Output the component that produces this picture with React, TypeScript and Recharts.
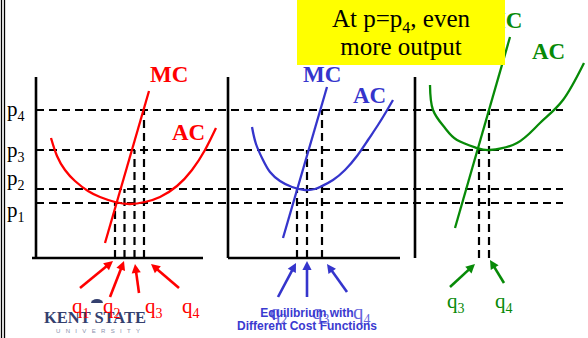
import React from 'react';
import {
  ComposedChart,
  Line,
  XAxis,
  YAxis,
  ReferenceLine,
  ReferenceDot,
  ReferenceArea,
} from 'recharts';

// ---------- data ----------
// Market price levels p1..p4 (price units measured up from the quantity axis)
const priceNames = ['1', '2', '3', '4'];
const priceLevels = [55, 69, 108, 148];

// Output each firm supplies at p1..p4 (null: not marked)
const redOutput: (number | null)[] = [79, 88.5, 98.5, 108];
const blueOutput: (number | null)[] = [null, 69, 79, 94];
const greenOutput: (number | null)[] = [null, null, 64, 74];

// Marginal cost lines
const redMC = [{ q: 69, p: 15 }, { q: 113, p: 167 }];
const blueMC = [{ q: 55, p: 20 }, { q: 99, p: 171 }];
const greenMC = [{ q: 40, p: 30 }, { q: 95, p: 221 }];

// Average cost curves
const redAC = [
  { q: 15, p: 120 }, { q: 21, p: 102 }, { q: 29, p: 88 }, { q: 39, p: 77 },
  { q: 52, p: 67 }, { q: 64, p: 61 }, { q: 79, p: 56 }, { q: 94, p: 54 },
  { q: 109, p: 56 }, { q: 124, p: 61 }, { q: 141, p: 72 }, { q: 156, p: 88 },
  { q: 169, p: 108 }, { q: 180, p: 130 },
];
const blueAC = [
  { q: 24, p: 131 }, { q: 28, p: 114 }, { q: 35, p: 98 }, { q: 42, p: 86 },
  { q: 52, p: 77 }, { q: 64, p: 71 }, { q: 77, p: 68 }, { q: 87, p: 69 },
  { q: 94, p: 72 }, { q: 105, p: 78 }, { q: 117, p: 88 }, { q: 129, p: 102 },
  { q: 140, p: 118 }, { q: 150, p: 133 }, { q: 158, p: 146 }, { q: 165, p: 158 },
];
const greenAC = [
  { q: 15, p: 173 }, { q: 18, p: 148 }, { q: 30, p: 130 }, { q: 42, p: 118 },
  { q: 62, p: 110 }, { q: 75, p: 108 }, { q: 102, p: 115 }, { q: 125, p: 135 },
  { q: 148, p: 158 }, { q: 169, p: 195 },
];

// Quantity labels under each panel
const redQLabels = ['1', '2', '3', '4'];
const blueQLabels = ['2', '3', '4'];
const greenQLabels = ['3', '4'];

// ---------- layout ----------
const W = 588;
const H = 338;
const SERIF = '"Liberation Serif", "Times New Roman", serif';
const SANS = '"Liberation Sans", Arial, sans-serif';
const RED = '#ff0000';
const BLUE = '#3535cc';
const GREEN = '#078a07';
const LIGHT_BLUE = '#6464dc';

type Pt = { q: number; p: number };

const panels = [
  {
    key: 'red', origin: 36, color: RED, mc: redMC, ac: redAC, output: redOutput,
    axisFrom: -4, axisTo: 167,
    mcLabel: { q: 114, p: 176 }, acLabel: { q: 136, p: 118 },
    qLabels: redQLabels, qLabelQ: [36, 67, 109, 146], qLabelP: -55, qLabelColor: RED,
    arrows: [
      [44, -30, 77, -3], [74, -39, 88, -3], [103, -35, 99, -6], [143, -30, 115, -6],
    ],
  },
  {
    key: 'blue', origin: 228, color: BLUE, mc: blueMC, ac: blueAC, output: blueOutput,
    axisFrom: 0, axisTo: 172,
    mcLabel: { q: 75, p: 176 }, acLabel: { q: 125, p: 155 },
    qLabels: blueQLabels, qLabelQ: [42, 84, 125], qLabelP: -61, qLabelColor: LIGHT_BLUE,
    arrows: [
      [50, -39, 68, -5], [79, -39, 79, -3], [119, -34, 99, -6],
    ],
  },
  {
    key: 'green', origin: 415, color: GREEN, mc: greenMC, ac: greenAC, output: greenOutput,
    axisFrom: 0, axisTo: 175,
    mcLabel: { q: 69, p: 230 }, acLabel: { q: 117, p: 199 },
    qLabels: greenQLabels, qLabelQ: [32, 80], qLabelP: -50, qLabelColor: GREEN,
    arrows: [
      [35, -29, 60, -6], [89, -25, 75, -2],
    ],
  },
];

const AXIS_TOP = 181;
const DASH_FROM = 36;
const DASH_TO = 563;

const toXY = (origin: number, pts: Pt[]) => pts.map((d) => ({ x: origin + d.q, p: d.p }));

const arrowShape = (color: string) => (props: any) => {
  const { x1, y1, x2, y2 } = props;
  const dx = x2 - x1;
  const dy = y2 - y1;
  const len = Math.hypot(dx, dy) || 1;
  const ux = dx / len;
  const uy = dy / len;
  const hl = 9;
  const hw = 4.6;
  const bx = x2 - ux * hl;
  const by = y2 - uy * hl;
  return (
    <g>
      <line x1={x1} y1={y1} x2={bx + ux * 1} y2={by + uy * 1} stroke={color} strokeWidth={2.6} />
      <polygon
        points={`${x2},${y2} ${bx - uy * hw},${by + ux * hw} ${bx + uy * hw},${by - ux * hw}`}
        fill={color}
      />
    </g>
  );
};

const textDot = (key: string, x: number, p: number, node: React.ReactNode) => (
  <ReferenceDot
    key={key}
    x={x}
    y={p}
    r={1}
    fill="none"
    stroke="none"
    isFront
    shape={(props: any) => (
      <g transform={`translate(${props.cx},${props.cy})`}>{node}</g>
    )}
  />
);

const subText = (
  main: string,
  idx: string,
  fill: string,
  size = 21,
  subSize = 14,
  dy = 5,
) => (
  <text x={0} y={0} fontFamily={SERIF} fontSize={size} fill={fill}>
    {main}
    <tspan dy={dy} fontSize={subSize}>
      {idx}
    </tspan>
  </text>
);

const boldText = (txt: string, fill: string) => (
  <text x={0} y={0} fontFamily={SERIF} fontSize={23} fontWeight="bold" fill={fill}>
    {txt}
  </text>
);

const boxText = (props: any) => {
  const vb = props.viewBox || { x: 297, y: 0, width: 208, height: 65 };
  const cx = vb.x + vb.width / 2;
  return (
    <g>
      <text x={cx} y={vb.y + 27} textAnchor="middle" fontFamily={SERIF} fontSize={25} fill="#000">
        At p=p
        <tspan dy={6} fontSize={16}>4</tspan>
        <tspan dy={-6}>, even</tspan>
      </text>
      <text x={cx} y={vb.y + 55} textAnchor="middle" fontFamily={SERIF} fontSize={25} fill="#000">
        more output
      </text>
    </g>
  );
};

export default function App() {
  const elements: React.ReactNode[] = [];

  // Frame on the left edge
  elements.push(
    <ReferenceLine key="frame-a" segment={[{ x: 1.5, y: -80 }, { x: 1.5, y: 258 }]} stroke="#000" strokeWidth={1.3} />,
    <ReferenceLine key="frame-b" segment={[{ x: 4.5, y: -80 }, { x: 4.5, y: 258 }]} stroke="#000" strokeWidth={1.3} />,
  );

  // University logo
  elements.push(
    textDot('logo-dome', 97, -45, <path d="M -6 0 A 6 4 0 0 1 6 0 Z" fill="#34406e" />),
    textDot(
      'logo-name',
      44,
      -65,
      <text
        x={0}
        y={0}
        fontFamily={SERIF}
        fontSize={16}
        fontWeight="bold"
        fill="#34406e"
        textLength={102}
        lengthAdjust="spacingAndGlyphs"
      >
        KENT STATE
      </text>,
    ),
    textDot(
      'logo-sub',
      56,
      -75,
      <text x={0} y={0} fontFamily={SANS} fontSize={6} fill="#8a90ac" textLength={84} lengthAdjust="spacing">
        UNIVERSITY
      </text>,
    ),
  );

  // Price levels: dashed lines across all panels and their labels
  priceLevels.forEach((p, i) => {
    elements.push(
      <ReferenceLine
        key={`price-${i}`}
        segment={[{ x: DASH_FROM, y: p }, { x: DASH_TO, y: p }]}
        stroke="#000"
        strokeWidth={2.2}
        strokeDasharray="8 5"
      />,
    );
  });
  const priceLabelP = [41, 73, 101, 142];
  priceNames.forEach((n, i) => {
    elements.push(textDot(`plabel-${i}`, 7, priceLabelP[i], subText('p', n, '#000')));
  });

  panels.forEach((pn) => {
    // axes
    elements.push(
      <ReferenceLine
        key={`${pn.key}-yaxis`}
        segment={[{ x: pn.origin, y: 0 }, { x: pn.origin, y: AXIS_TOP }]}
        stroke="#000"
        strokeWidth={2.6}
      />,
      <ReferenceLine
        key={`${pn.key}-xaxis`}
        segment={[{ x: pn.origin + pn.axisFrom, y: 0 }, { x: pn.origin + pn.axisTo, y: 0 }]}
        stroke="#000"
        strokeWidth={2.6}
      />,
    );
    // dashed drop lines from price level to output
    pn.output.forEach((q, i) => {
      if (q == null) return;
      elements.push(
        <ReferenceLine
          key={`${pn.key}-drop-${i}`}
          segment={[{ x: pn.origin + q, y: 0 }, { x: pn.origin + q, y: priceLevels[i] }]}
          stroke="#000"
          strokeWidth={2.2}
          strokeDasharray="8 5"
        />,
      );
    });
    // cost curves
    elements.push(
      <Line
        key={`${pn.key}-ac`}
        data={toXY(pn.origin, pn.ac)}
        dataKey="p"
        type="natural"
        stroke={pn.color}
        strokeWidth={2.3}
        dot={false}
        activeDot={false}
        isAnimationActive={false}
      />,
      <Line
        key={`${pn.key}-mc`}
        data={toXY(pn.origin, pn.mc)}
        dataKey="p"
        type="linear"
        stroke={pn.color}
        strokeWidth={2.3}
        dot={false}
        activeDot={false}
        isAnimationActive={false}
      />,
    );
    // arrows pointing at the outputs
    pn.arrows.forEach((a, i) => {
      elements.push(
        <ReferenceLine
          key={`${pn.key}-arrow-${i}`}
          segment={[{ x: pn.origin + a[0], y: a[1] }, { x: pn.origin + a[2], y: a[3] }]}
          stroke={pn.color}
          shape={arrowShape(pn.color)}
        />,
      );
    });
    // curve names
    elements.push(
      textDot(`${pn.key}-mclabel`, pn.origin + pn.mcLabel.q, pn.mcLabel.p, boldText('MC', pn.color)),
      textDot(`${pn.key}-aclabel`, pn.origin + pn.acLabel.q, pn.acLabel.p, boldText('AC', pn.color)),
    );
    // quantity labels
    pn.qLabels.forEach((n, i) => {
      elements.push(
        textDot(`${pn.key}-q-${i}`, pn.origin + pn.qLabelQ[i], pn.qLabelP, subText('q', n, pn.qLabelColor)),
      );
    });
  });

  // Caption in the middle panel
  elements.push(
    textDot(
      'caption-1',
      307,
      -59,
      <text x={0} y={0} textAnchor="middle" fontFamily={SANS} fontSize={12} fontWeight="bold" fill="#3a3ad0">
        Equilibrium with
      </text>,
    ),
    textDot(
      'caption-2',
      307,
      -72,
      <text x={0} y={0} textAnchor="middle" fontFamily={SANS} fontSize={12} fontWeight="bold" fill="#3a3ad0">
        Different Cost Functions
      </text>,
    ),
  );

  return (
    <div style={{ position: 'absolute', left: 0, top: 0, width: W, height: H, background: '#fff' }}>
      <ComposedChart width={W} height={H} margin={{ top: 0, right: 0, bottom: 0, left: 0 }}>
        <XAxis dataKey="x" type="number" domain={[0, W]} hide allowDataOverflow />
        <YAxis type="number" domain={[-80, 258]} hide allowDataOverflow />
        {elements}
        <ReferenceArea
          x1={297}
          x2={505}
          y1={193}
          y2={258}
          fill="#ffff00"
          fillOpacity={1}
          stroke="none"
          zIndex={1500}
          label={{ content: boxText }}
        />
      </ComposedChart>
    </div>
  );
}
